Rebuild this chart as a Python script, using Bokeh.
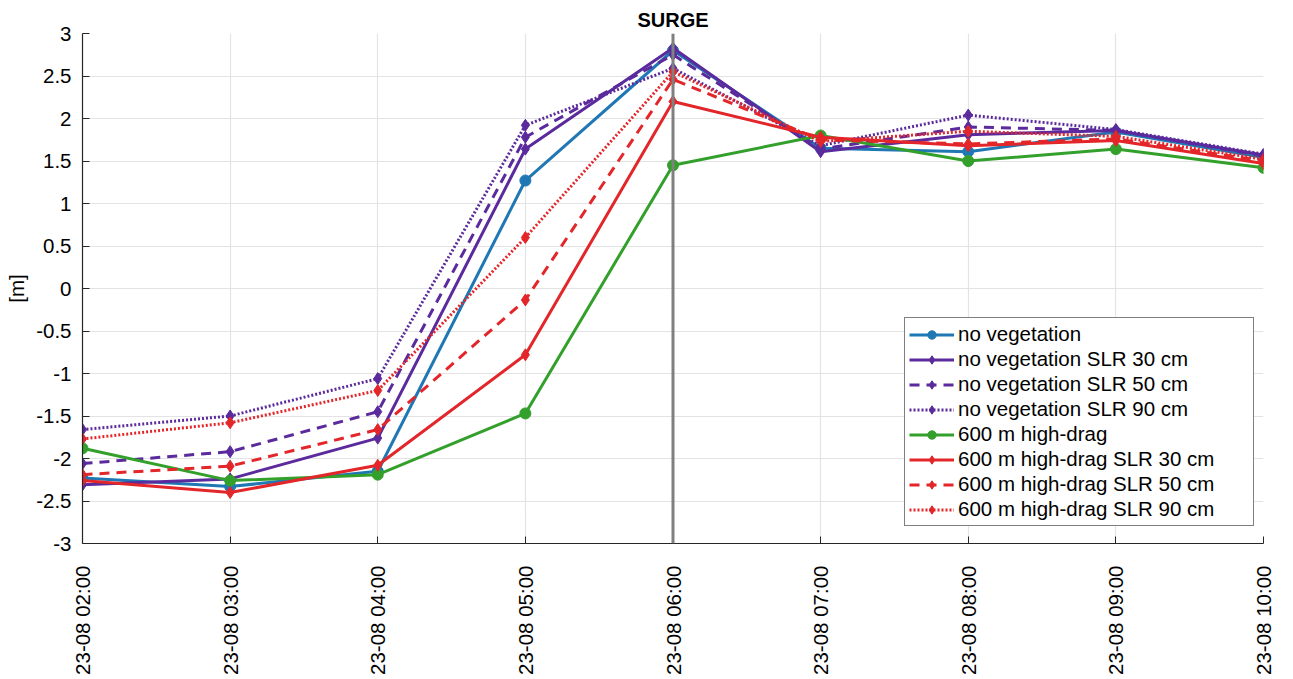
import numpy as np
from bokeh.plotting import figure
from bokeh.models import Range1d, Legend, LegendItem, Span, FixedTicker
from bokeh.embed import file_html
from bokeh.resources import INLINE

hours = [2, 3, 4, 5, 6, 7, 8, 9, 10]
tick_labels = ["23-08 02:00", "23-08 03:00", "23-08 04:00", "23-08 05:00", "23-08 06:00",
               "23-08 07:00", "23-08 08:00", "23-08 09:00", "23-08 10:00"]
y_ticks = [-3, -2.5, -2, -1.5, -1, -0.5, 0, 0.5, 1, 1.5, 2, 2.5, 3]
y_tick_labels = ["-3", "-2.5", "-2", "-1.5", "-1", "-0.5", "0", "0.5", "1", "1.5", "2", "2.5", "3"]

no_veg = [-2.23, -2.33, -2.15, 1.27, 2.80, 1.65, 1.61, 1.84, 1.54]
no_veg_slr30 = [-2.31, -2.24, -1.76, 1.64, 2.83, 1.61, 1.81, 1.86, 1.57]
no_veg_slr50 = [-2.06, -1.92, -1.45, 1.78, 2.75, 1.64, 1.90, 1.86, 1.56]
no_veg_slr90 = [-1.66, -1.50, -1.06, 1.92, 2.59, 1.68, 2.04, 1.87, 1.58]
hd600 = [-1.88, -2.26, -2.19, -1.47, 1.45, 1.80, 1.50, 1.64, 1.42]
hd600_slr30 = [-2.26, -2.40, -2.08, -0.78, 2.20, 1.78, 1.68, 1.74, 1.47]
hd600_slr50 = [-2.19, -2.09, -1.66, -0.135, 2.46, 1.75, 1.70, 1.76, 1.50]
hd600_slr90 = [-1.77, -1.58, -1.20, 0.60, 2.55, 1.73, 1.85, 1.79, 1.52]

series_names = ["no vegetation", "no vegetation SLR 30 cm", "no vegetation SLR 50 cm",
                "no vegetation SLR 90 cm", "600 m high-drag", "600 m high-drag SLR 30 cm",
                "600 m high-drag SLR 50 cm", "600 m high-drag SLR 90 cm"]
series_values = [no_veg, no_veg_slr30, no_veg_slr50, no_veg_slr90,
                 hd600, hd600_slr30, hd600_slr50, hd600_slr90]

BLUE, PURPLE, GREEN, RED = "#1f78b4", "#5b2a9c", "#33a02c", "#e3262a"
styles = [
    (BLUE, "solid", "circle", 11),
    (PURPLE, "solid", "diamond", 12),
    (PURPLE, "10 7", "diamond", 12),
    (PURPLE, "2 2", "diamond", 12),
    (GREEN, "solid", "circle", 11),
    (RED, "solid", "diamond", 12),
    (RED, "10 7", "diamond", 12),
    (RED, "2 2", "diamond", 12),
]

FONT = "Liberation Sans"
FS = "20.5px"

p = figure(width=1277, height=677, output_backend="svg", toolbar_location=None,
           x_range=Range1d(2, 10), y_range=Range1d(-3, 3),
           min_border_left=82, min_border_right=14, min_border_top=33, min_border_bottom=131)

p.title.text = "SURGE"
p.title.align = "center"
p.title.text_font = FONT
p.title.text_font_size = "20px"
p.title.text_font_style = "bold"
p.title.text_color = "black"
p.title.standoff = 6

p.outline_line_color = None
p.background_fill_color = "white"
p.border_fill_color = "white"

p.xgrid.grid_line_color = "#e3e3e3"
p.ygrid.grid_line_color = "#e3e3e3"
p.xgrid.grid_line_width = 1.2
p.ygrid.grid_line_width = 1.2

p.xaxis.ticker = FixedTicker(ticks=hours)
p.xaxis.major_label_overrides = {h: lab for h, lab in zip(hours, tick_labels)}
p.xaxis.major_label_orientation = np.pi / 2
p.yaxis.ticker = FixedTicker(ticks=y_ticks)
p.yaxis.major_label_overrides = {t: lab for t, lab in zip(y_ticks, y_tick_labels)}
p.yaxis.axis_label = "[m]"

for ax in (p.xaxis[0], p.yaxis[0]):
    ax.axis_line_color = "#262626"
    ax.axis_line_width = 1.2
    ax.major_tick_line_color = "#262626"
    ax.major_tick_in = 7
    ax.major_tick_out = 0
    ax.minor_tick_line_color = None
    ax.major_label_text_font = FONT
    ax.major_label_text_font_size = FS
    ax.major_label_text_color = "black"
    ax.axis_label_text_font = FONT
    ax.axis_label_text_font_size = FS
    ax.axis_label_text_font_style = "normal"
    ax.axis_label_text_color = "black"
p.xaxis.major_label_standoff = 22
p.yaxis.major_label_standoff = 11
p.yaxis.axis_label_standoff = 5

p.add_layout(Span(location=6, dimension="height", line_color="#808080", line_width=3))

items = []
for name, vals, (col, dash, marker, size) in zip(series_names, series_values, styles):
    r1 = p.line(hours, vals, line_color=col, line_width=3, line_dash=dash)
    r2 = p.scatter(hours, vals, marker=marker, size=size, fill_color=col, line_color=col)
    items.append(LegendItem(label=name, renderers=[r1, r2]))

legend = Legend(items=items, location=(822, 17))
legend.label_text_font = FONT
legend.label_text_font_size = FS
legend.label_text_color = "black"
legend.border_line_color = "black"
legend.border_line_width = 1
legend.background_fill_alpha = 1
legend.glyph_width = 45
legend.glyph_height = 21
legend.label_height = 21
legend.label_width = 291
legend.spacing = 1
legend.padding = 4
legend.margin = 0
legend.label_standoff = 4
p.add_layout(legend, "center")

open("out.html", "w").write(file_html(p, INLINE))
